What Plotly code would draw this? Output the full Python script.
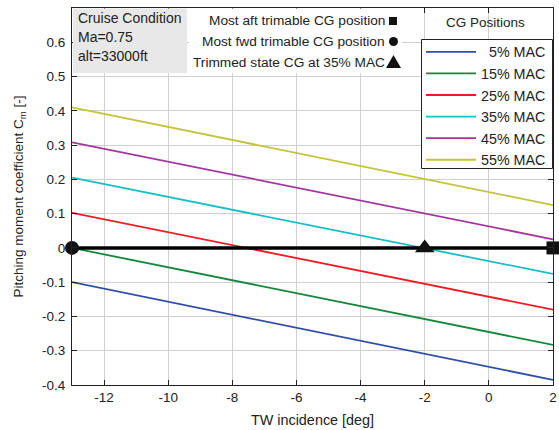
import plotly.graph_objects as go

# data
x_range = [-13, 2]
cg_labels = ["\u20075% MAC", "15% MAC", "25% MAC", "35% MAC", "45% MAC", "55% MAC"]
cm_start = [-0.100, 0.000, 0.102, 0.205, 0.308, 0.410]
cm_end = [-0.385, -0.283, -0.180, -0.076, 0.025, 0.125]
colors = ["#2f4ea8", "#14873c", "#ec1c24", "#16c0c4", "#a4359d", "#c3c33a"]

aft_x, aft_y = 2, 0.0
fwd_x, fwd_y = -13, 0.0
trim_x, trim_y = -2, 0.0

x_ticks = [-12, -10, -8, -6, -4, -2, 0, 2]
y_ticks = [-0.4, -0.3, -0.2, -0.1, 0, 0.1, 0.2, 0.3, 0.4, 0.5, 0.6]
y_ticktext = ["-0.4", "-0.3", "-0.2", "-0.1", "0", "0.1", "0.2", "0.3", "0.4", "0.5", "0.6"]

FONT = "Liberation Sans, Arial, sans-serif"
TXT = "#222"

fig = go.Figure()
for i, lab in enumerate(cg_labels):
    fig.add_trace(go.Scatter(
        x=x_range, y=[cm_start[i], cm_end[i]], mode="lines", name=lab,
        line=dict(color=colors[i], width=1.8)))

fig.add_trace(go.Scatter(x=x_range, y=[0, 0], mode="lines",
                         line=dict(color="black", width=3.5), showlegend=False))
fig.add_trace(go.Scatter(x=[fwd_x], y=[fwd_y], mode="markers", showlegend=False,
                         marker=dict(symbol="circle", size=14, color="#111"), cliponaxis=False))
fig.add_trace(go.Scatter(x=[aft_x], y=[aft_y], mode="markers", showlegend=False,
                         marker=dict(symbol="square", size=13, color="#111"), cliponaxis=False))
fig.add_trace(go.Scatter(x=[trim_x], y=[trim_y], mode="markers", showlegend=False,
                         marker=dict(symbol="triangle-up", size=17, color="#111"), cliponaxis=False))

W, H = 559, 430
L, R, T, B = 72, 6, 8, 45
pw, ph = W - L - R, H - T - B

def px(x):
    return (x - L) / pw

def py(y):
    return (H - B - y) / ph

shapes = []
annotations = []
# cruise condition box
shapes.append(dict(type="rect", xref="paper", yref="paper", x0=px(73), x1=px(187),
                   y0=py(73), y1=py(8.5), fillcolor="#e8e8e8", line=dict(width=0), layer="above"))
for txt, yy in [("Cruise Condition", 18), ("Ma=0.75", 37), ("alt=33000ft", 55.5)]:
    annotations.append(dict(xref="paper", yref="paper", x=px(76), y=py(yy), xanchor="left",
                            yanchor="middle", showarrow=False, text=txt,
                            font=dict(family=FONT, size=14, color=TXT)))
# marker legend box
shapes.append(dict(type="rect", xref="paper", yref="paper", x0=px(189), x1=px(402),
                   y0=py(73), y1=py(8.5), fillcolor="white", line=dict(width=0), layer="above"))
for txt, yy in [("Most aft trimable CG position", 20), ("Most fwd trimable CG position", 42),
                ("Trimmed state CG at 35% MAC", 62)]:
    annotations.append(dict(xref="paper", yref="paper", x=px(387), y=py(yy), xanchor="right",
                            yanchor="middle", showarrow=False, text=txt,
                            font=dict(family=FONT, size=13.7, color=TXT)))
shapes.append(dict(type="rect", xref="paper", yref="paper", x0=px(389), x1=px(397),
                   y0=py(25), y1=py(17), fillcolor="#111", line=dict(width=0), layer="above"))
shapes.append(dict(type="circle", xref="paper", yref="paper", x0=px(389), x1=px(398),
                   y0=py(46), y1=py(37), fillcolor="#111", line=dict(width=0), layer="above"))
shapes.append(dict(type="path", xref="paper", yref="paper",
                   path=f"M {px(386)} {py(68)} L {px(401)} {py(68)} L {px(393.5)} {py(55)} Z",
                   fillcolor="#111", line=dict(width=0), layer="above"))
# legend frame
shapes.append(dict(type="rect", xref="paper", yref="paper", x0=px(421.5), x1=px(552.5),
                   y0=py(168.5), y1=py(39.5), fillcolor="white",
                   line=dict(color="#222", width=1), layer="above"))
# legend title
annotations.append(dict(xref="paper", yref="paper", x=px(485), y=py(22), xanchor="center",
                        yanchor="middle", showarrow=False, text="CG Positions",
                        font=dict(family=FONT, size=13.5, color=TXT)))

fig.update_layout(
    width=W, height=H, margin=dict(l=L, r=R, t=T, b=B, autoexpand=False),
    paper_bgcolor="white", plot_bgcolor="white",
    font=dict(family=FONT, size=13.5, color=TXT),
    shapes=shapes, annotations=annotations,
    legend=dict(x=px(421), y=py(36), xanchor="left", yanchor="top",
                bgcolor="rgba(0,0,0,0)", borderwidth=0,
                font=dict(family=FONT, size=14.3, color=TXT),
                traceorder="normal", itemwidth=50),
    xaxis=dict(range=[-13, 2], tickvals=x_ticks, ticktext=[str(v) for v in x_ticks],
               showgrid=True, gridcolor="#d0d0d0", gridwidth=1, zeroline=False,
               showline=True, linecolor="#222", linewidth=1, mirror="ticks",
               ticks="inside", ticklen=5, tickcolor="#222", automargin=False,
               title=dict(text="TW incidence [deg]", font=dict(size=14.4), standoff=10),
               tickfont=dict(size=13.5)),
    yaxis=dict(range=[-0.4, 0.7], tickvals=y_ticks, ticktext=y_ticktext,
               showgrid=True, gridcolor="#d0d0d0", gridwidth=1, zeroline=False,
               showline=True, linecolor="#222", linewidth=1, mirror="ticks",
               ticks="inside", ticklen=5, tickcolor="#222", automargin=False,
               ticklabelstandoff=3,
               title=dict(text="Pitching moment coefficient C<sub>m</sub> [-]", font=dict(size=13.5), standoff=15),
               tickfont=dict(size=13.5)),
)

fig.write_html("out.html")
